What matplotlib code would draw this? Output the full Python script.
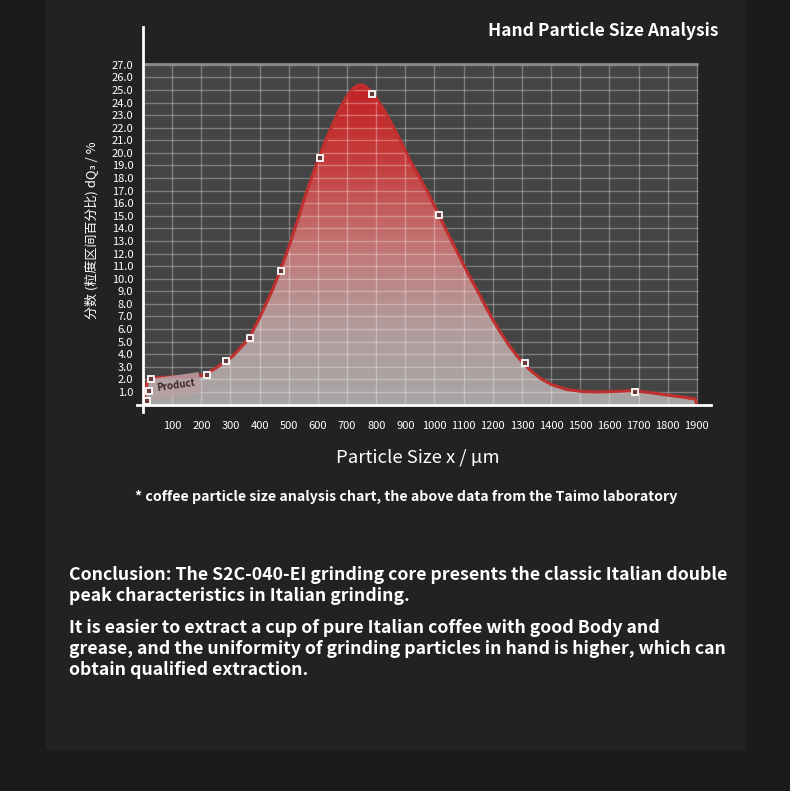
import matplotlib
matplotlib.use('Agg')
import matplotlib.pyplot as plt
import numpy as np
from matplotlib.colors import LinearSegmentedColormap
from matplotlib.patches import Rectangle, Polygon

plt.rcParams['font.family'] = ['Noto Sans CJK SC', 'DejaVu Sans']

# 曲线
curve_x = [0, 5, 10, 17, 30, 60, 100, 150, 200, 220, 250, 288, 310, 330, 350, 367, 400, 420,
           446, 470, 497, 520, 549, 575, 597, 625, 652, 675, 700, 720, 738, 750, 762, 778,
           796, 827, 858, 887, 916, 945, 974, 1012, 1050, 1087, 1115, 1146, 1175, 1201,
           1230, 1259, 1282, 1304, 1330, 1362, 1400, 1454, 1510, 1560, 1600, 1681, 1740,
           1797, 1850, 1894, 1900]
curve_y = [0, 0.6, 1.3, 1.95, 2.1, 2.15, 2.2, 2.2, 2.3, 2.5, 2.9, 3.5, 3.9, 4.4, 4.9, 5.4, 6.9, 7.9,
           9.2, 10.6, 12.3, 13.9, 16.0, 17.8, 19.2, 20.9, 22.3, 23.5, 24.5, 25.1, 25.38, 25.4, 25.3, 25.0,
           24.5, 23.4, 22.1, 20.8, 19.4, 18.2, 17.0, 15.2, 13.4, 11.7, 10.4, 9.1, 7.8, 6.7,
           5.6, 4.6, 3.9, 3.3, 2.7, 2.1, 1.6, 1.2, 1.03, 1.0, 1.03, 1.1, 0.95,
           0.76, 0.6, 0.45, 0]

# 实测点
pts_x = [14, 20, 27, 220, 285, 368, 474, 608, 787, 1014, 1309, 1687]
pts_y = [0.3, 1.1, 2.0, 2.35, 3.45, 5.3, 10.6, 19.6, 24.7, 15.1, 3.3, 1.0]

xticks = list(range(100, 2000, 100))
yticks = list(range(1, 28))

fig = plt.figure(figsize=(7.9, 7.91), dpi=100, facecolor='#1b1b1b')
fig.patches.append(Rectangle((45 / 790, 1 - 750 / 791), 700 / 790, 750 / 791,
                             transform=fig.transFigure, facecolor='#222222',
                             edgecolor='none', zorder=-5))

ax = fig.add_axes([143 / 790, 1 - 404.6 / 791, 568.4 / 790, 377.6 / 791])
ax.set_zorder(2)
ax.set_facecolor('none')
ax.set_xlim(0, 1950)
ax.set_ylim(0, 30)

# 网格背景
grid_top = 27.1
grid_right = 1903
ax.add_patch(Rectangle((0, 0), grid_right, grid_top, facecolor='#444444', edgecolor='none', zorder=1))

# 渐变填充
cmap = LinearSegmentedColormap.from_list('fill', [(0, '#a8a5a5'), (0.25, '#b39b9b'),
                                                  (0.5, '#c37474'), (0.75, '#c53e3e'),
                                                  (1.0, '#c22224')])
grad = np.linspace(0, 1, 256).reshape(-1, 1)
im = ax.imshow(grad, cmap=cmap, origin='lower', aspect='auto',
               extent=(0, 1900, 0, 25.5), zorder=2)
poly = Polygon(list(zip(curve_x, curve_y)), closed=True, facecolor='none', edgecolor='none')
ax.add_patch(poly)
im.set_clip_path(poly)

# 网格线
ax.hlines(yticks, 0, grid_right, colors='white', alpha=0.3, lw=1, zorder=3)
ax.vlines(xticks, 0, grid_top, colors='white', alpha=0.3, lw=1, zorder=3)
ax.hlines([grid_top], 0, grid_right, colors='#8a8a8a', lw=2, zorder=3)

# 曲线与点
ax.plot(curve_x, curve_y, color='#c0302e', lw=2.2, zorder=4,
        solid_capstyle='round', solid_joinstyle='round')
ax.plot(pts_x, pts_y, ls='none', marker='s', markersize=5, mfc='#6a3a3a',
        mec='white', mew=1.3, zorder=6)

ax.text(112, 1.5, 'Product', fontsize=7, fontweight='bold', color='#3a2a2a',
        rotation=8, ha='center', va='center', zorder=5,
        bbox=dict(boxstyle='square,pad=0.55', facecolor='#b7a0a2', edgecolor='none', alpha=0.85))

# 坐标轴
for s in ['top', 'right']:
    ax.spines[s].set_visible(False)
ax.spines['left'].set_color('white')
ax.spines['left'].set_linewidth(2)
ax.spines['left'].set_bounds(-0.6, 30)
ax.spines['bottom'].set_color('white')
ax.spines['bottom'].set_linewidth(2)
ax.spines['bottom'].set_bounds(-20, 1950)
ax.spines['left'].set_zorder(7)
ax.spines['bottom'].set_zorder(7)

ax.set_xticks(xticks)
ax.set_xticklabels([str(v) for v in xticks], fontweight='medium')
ax.set_yticks(yticks)
ax.set_yticklabels(['%.1f' % v for v in yticks], fontweight='medium')
ax.tick_params(axis='both', length=0, colors='white', labelsize=8)
ax.tick_params(axis='y', pad=7)
ax.tick_params(axis='x', pad=12)

ax.set_ylabel('分数 (粒度区间百分比) dQ₃ / %', fontsize=9.4, color='white')
ax.yaxis.set_label_coords(-0.078, 0.462)

fig.text(418 / 790, 1 - 457 / 791, 'Particle Size x / µm', fontsize=13.3, color='white',
         ha='center', va='center', fontweight='light')
fig.text(406 / 790, 1 - 497 / 791,
         '* coffee particle size analysis chart, the above data from the Taimo laboratory',
         fontsize=10.2, color='white', ha='center', va='center', fontweight='bold')
fig.text(719 / 790, 1 - 31 / 791, 'Hand Particle Size Analysis', fontsize=12.5, color='white',
         ha='right', va='center', fontweight='bold')

fig.text(69 / 790, 1 - 566 / 791,
         'Conclusion: The S2C-040-EI grinding core presents the classic Italian double\n'
         'peak characteristics in Italian grinding.',
         fontsize=12.75, color='white', ha='left', va='top', fontweight='bold', linespacing=1.2)
fig.text(69 / 790, 1 - 619 / 791,
         'It is easier to extract a cup of pure Italian coffee with good Body and\n'
         'grease, and the uniformity of grinding particles in hand is higher, which can\n'
         'obtain qualified extraction.',
         fontsize=12.75, color='white', ha='left', va='top', fontweight='bold', linespacing=1.2)

fig.savefig('out.png', dpi=100, facecolor=fig.get_facecolor())
